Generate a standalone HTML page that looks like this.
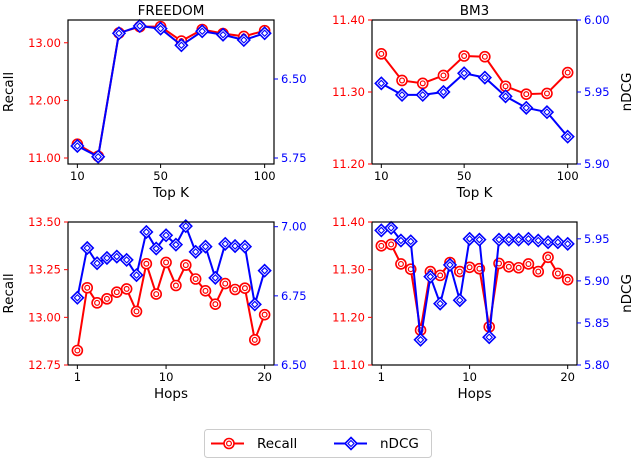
<!DOCTYPE html>
<html><head><meta charset="utf-8"><style>
body{margin:0;background:#fff}
svg{display:block;font-family:"DejaVu Sans","Liberation Sans",sans-serif}
</style></head><body>
<svg id="chart" width="634" height="460" viewBox="0 0 634 460" xmlns="http://www.w3.org/2000/svg"></svg>
<script>
const topK = [10,20,30,40,50,60,70,80,90,100];
const hops = [1,2,3,4,5,6,7,8,9,10,11,12,13,14,15,16,17,18,19,20];
const freedomRecallK = [11.24,11.03,13.17,13.28,13.28,13.03,13.23,13.16,13.11,13.21];
const freedomNdcgK = [5.864,5.762,6.934,7.003,6.978,6.82,6.953,6.92,6.87,6.934];
const bm3RecallK = [11.353,11.316,11.312,11.323,11.350,11.349,11.308,11.297,11.298,11.327];
const bm3NdcgK = [5.956,5.948,5.948,5.950,5.963,5.960,5.947,5.939,5.936,5.919];
const freedomRecallH = [12.826,13.155,13.076,13.097,13.132,13.149,13.031,13.281,13.122,13.288,13.167,13.274,13.201,13.139,13.069,13.177,13.146,13.153,12.882,13.014];
const freedomNdcgH = [6.743,6.923,6.868,6.887,6.892,6.880,6.825,6.981,6.921,6.969,6.935,7.002,6.909,6.928,6.815,6.938,6.930,6.928,6.719,6.841];
const bm3RecallH = [11.350,11.353,11.312,11.301,11.173,11.296,11.288,11.315,11.296,11.305,11.302,11.180,11.313,11.306,11.304,11.312,11.296,11.326,11.292,11.279];
const bm3NdcgH = [5.960,5.963,5.948,5.947,5.830,5.905,5.873,5.919,5.877,5.950,5.949,5.833,5.949,5.949,5.949,5.950,5.948,5.946,5.946,5.944];
const xTicksK = [10,50,100];
const xTicksH = [1,10,20];
const lt1 = ["11.00","12.00","13.00"], rt1 = ["5.75","6.50"];
const lt2 = ["11.20","11.30","11.40"], rt2 = ["5.90","5.95","6.00"];
const lt3 = ["12.75","13.00","13.25","13.50"], rt3 = ["6.50","6.75","7.00"];
const lt4 = ["11.10","11.20","11.30","11.40"], rt4 = ["5.80","5.85","5.90","5.95"];

const svg = document.getElementById('chart');
const NS = 'http://www.w3.org/2000/svg';
function mk(tag, attrs, parent){const e=document.createElementNS(NS,tag);for(const k in attrs)e.setAttribute(k,attrs[k]);(parent||svg).appendChild(e);return e;}
function txt(s, attrs, parent){const e=mk('text',attrs,parent);e.textContent=s;return e;}
function circ(g,x,y){
  const a=mk('circle',{cx:x,cy:y,r:5,fill:'#fff',stroke:'red','stroke-width':1.6},g);
  
  mk('circle',{cx:x,cy:y,r:2.4,fill:'none',stroke:'red','stroke-width':1.2},g);
}
function diam(g,x,y){
  const a=mk('path',{d:`M${x} ${y-6}L${x+6} ${y}L${x} ${y+6}L${x-6} ${y}Z`,fill:'#fff',stroke:'blue','stroke-width':1.6},g);
  
  mk('path',{d:`M${x} ${y-3}L${x+3} ${y}L${x} ${y+3}L${x-3} ${y}Z`,fill:'none',stroke:'blue','stroke-width':1.1},g);
}
function panel(o){
  const g=mk('g',{});
  
  
  const {x0,x1,y0,y1}=o;
  const xmin=o.xs[0], xmax=o.xs[o.xs.length-1], pad=(xmax-xmin)*0.05;
  const xs=v=>x0+(v-(xmin-pad))/((xmax+pad)-(xmin-pad))*(x1-x0);
  const yl=v=>y1-(v-o.l[0])/(o.l[1]-o.l[0])*(y1-y0);
  const yr=v=>y1-(v-o.r[0])/(o.r[1]-o.r[0])*(y1-y0);
  const pl=o.xs.map((v,i)=>xs(v)+','+yl(o.rec[i])).join(' ');
  const pr=o.xs.map((v,i)=>xs(v)+','+yr(o.nd[i])).join(' ');
  const l1=mk('polyline',{points:pl,fill:'none',stroke:'red','stroke-width':2},g);
  
  o.xs.forEach((v,i)=>circ(g,xs(v),yl(o.rec[i])));
  const l2=mk('polyline',{points:pr,fill:'none',stroke:'blue','stroke-width':2},g);
  
  o.xs.forEach((v,i)=>diam(g,xs(v),yr(o.nd[i])));
  mk('rect',{x:x0,y:y0,width:x1-x0,height:y1-y0,fill:'none',stroke:'#000','stroke-width':1.2},g);
  o.lt.forEach(s=>{const y=yl(+s);mk('line',{x1:x0-4,x2:x0,y1:y,y2:y,stroke:'red'},g);
    const t=txt(s,{x:x0-7,y:y+4,'text-anchor':'end','font-size':11.5,fill:'red'},g);});
  o.rt.forEach(s=>{const y=yr(+s);mk('line',{x1:x1,x2:x1+4,y1:y,y2:y,stroke:'blue'},g);
    const t=txt(s,{x:x1+7,y:y+4,'font-size':11.5,fill:'blue'},g);});
  o.xt.forEach(v=>{const x=xs(v);mk('line',{x1:x,x2:x,y1:y1,y2:y1+4,stroke:'#000'},g);
    const t=txt(String(v),{x:x,y:y1+16,'text-anchor':'middle','font-size':11.5},g);});
  const xl=txt(o.xlabel,{x:(x0+x1)/2,y:y1+33,'text-anchor':'middle','font-size':13.5},g);
  
  if(o.title){const t=txt(o.title,{x:(x0+x1)/2,y:y0-5,'text-anchor':'middle','font-size':13.5},g);}
  if(o.leftTitle){const t=txt('Recall',{x:0,y:0,'text-anchor':'middle','font-size':13.5,transform:`translate(13,${(y0+y1)/2}) rotate(-90)`},g);}
  if(o.rightTitle){const t=txt('nDCG',{x:0,y:0,'text-anchor':'middle','font-size':13.5,transform:`translate(631,${(y0+y1)/2}) rotate(-90)`},g);}
}
panel({name:'freedom-topk-panel',x0:68,x1:274,y0:20,y1:164,xs:topK,rec:freedomRecallK,nd:freedomNdcgK,l:[10.896,13.395],r:[5.693,7.06],lt:lt1,rt:rt1,xt:xTicksK,xlabel:'Top K',title:'FREEDOM',leftTitle:true});
panel({name:'bm3-topk-panel',x0:372,x1:577,y0:20,y1:164,xs:topK,rec:bm3RecallK,nd:bm3NdcgK,l:[11.2,11.4],r:[5.9,6.0],lt:lt2,rt:rt2,xt:xTicksK,xlabel:'Top K',title:'BM3',rightTitle:true});
panel({name:'freedom-hops-panel',x0:68,x1:274,y0:222,y1:365,xs:hops,rec:freedomRecallH,nd:freedomNdcgH,l:[12.75,13.5],r:[6.5,7.017],lt:lt3,rt:rt3,xt:xTicksH,xlabel:'Hops',leftTitle:true});
panel({name:'bm3-hops-panel',x0:372,x1:577,y0:222,y1:365,xs:hops,rec:bm3RecallH,nd:bm3NdcgH,l:[11.1,11.4],r:[5.8,5.97],lt:lt4,rt:rt4,xt:xTicksH,xlabel:'Hops',rightTitle:true});
const lg=mk('g',{});


mk('rect',{x:204.5,y:429.5,width:227,height:28,rx:3,fill:'#fff',stroke:'#ccc'},lg);
mk('line',{x1:211,x2:244,y1:443.5,y2:443.5,stroke:'red','stroke-width':2},lg);circ(lg,229,443.5);
const t1=txt('Recall',{x:257,y:448,'font-size':13.5},lg);
mk('line',{x1:334,x2:367,y1:443.5,y2:443.5,stroke:'blue','stroke-width':2},lg);diam(lg,351,443.5);
const t2=txt('nDCG',{x:380,y:448,'font-size':13.5},lg);
</script>
</body></html>
